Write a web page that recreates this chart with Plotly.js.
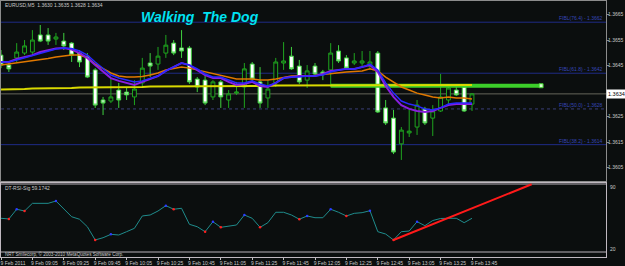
<!DOCTYPE html>
<html><head><meta charset="utf-8">
<script src="https://cdn.plot.ly/plotly-3.0.1.min.js"></script>
<style>html,body{margin:0;padding:0;background:#0b0e0e;}</style>
</head><body><div id="chart" style="width:625px;height:266px"></div>
<script>
const day = '2011-02-09 ';
const times = ['08:45','08:50','08:55','09:00','09:05','09:10','09:15','09:20','09:25','09:30','09:35','09:40','09:45','09:50','09:55',
 '10:00','10:05','10:10','10:15','10:20','10:25','10:30','10:35','10:40','10:45','10:50','10:55',
 '11:00','11:05','11:10','11:15','11:20','11:25','11:30','11:35','11:40','11:45','11:50','11:55',
 '12:00','12:05','12:10','12:15','12:20','12:25','12:30','12:35','12:40','12:45','12:50','12:55',
 '13:00','13:05','13:10','13:15','13:20','13:25','13:30','13:35','13:40','13:45'];
const open = [1.36491,1.36452,1.36480,1.36499,1.36503,1.36570,1.36570,1.36554,1.36546,1.36538,1.36499,1.36487,1.36433,1.36315,1.36311,
 1.36354,1.36346,1.36327,1.36382,1.36460,1.36456,1.36499,1.36538,1.36519,1.36519,1.36397,1.36393,
 1.36327,1.36386,1.36315,1.36342,1.36366,1.36456,1.36386,1.36323,1.36382,1.36460,1.36487,1.36448,
 1.36393,1.36448,1.36425,1.36433,1.36507,1.36480,1.36460,1.36460,1.36448,1.36499,1.36284,1.36244,
 1.36143,1.36186,1.36209,1.36280,1.36244,1.36272,1.36315,1.36354,1.36366,1.36299];
const high = [1.36511,1.36464,1.36538,1.36550,1.36589,1.36609,1.36597,1.36578,1.36578,1.36542,1.36511,1.36499,1.36440,1.36327,1.36401,
 1.36382,1.36366,1.36393,1.36480,1.36499,1.36523,1.36570,1.36550,1.36589,1.36527,1.36405,1.36409,
 1.36393,1.36393,1.36354,1.36386,1.36460,1.36464,1.36444,1.36393,1.36480,1.36542,1.36523,1.36472,
 1.36452,1.36460,1.36433,1.36538,1.36530,1.36491,1.36499,1.36507,1.36507,1.36507,1.36315,1.36276,
 1.36209,1.36276,1.36315,1.36288,1.36295,1.36417,1.36366,1.36370,1.36370,1.36342];
const low = [1.36440,1.36425,1.36464,1.36491,1.36491,1.36542,1.36531,1.36531,1.36511,1.36464,1.36444,1.36401,1.36284,1.36256,1.36303,
 1.36284,1.36315,1.36295,1.36362,1.36405,1.36433,1.36480,1.36491,1.36480,1.36378,1.36346,1.36295,
 1.36315,1.36284,1.36284,1.36335,1.36284,1.36382,1.36284,1.36284,1.36366,1.36433,1.36433,1.36378,
 1.36362,1.36409,1.36393,1.36366,1.36460,1.36433,1.36452,1.36444,1.36433,1.36264,1.36217,1.36103,
 1.36080,1.36170,1.36178,1.36217,1.36174,1.36268,1.36295,1.36331,1.36268,1.36272];
const close = [1.36452,1.36437,1.36503,1.36527,1.36550,1.36546,1.36546,1.36562,1.36527,1.36491,1.36464,1.36405,1.36295,1.36303,1.36327,
 1.36315,1.36335,1.36358,1.36440,1.36448,1.36487,1.36530,1.36499,1.36507,1.36386,1.36366,1.36303,
 1.36386,1.36327,1.36339,1.36346,1.36437,1.36397,1.36303,1.36358,1.36464,1.36468,1.36437,1.36386,
 1.36429,1.36417,1.36417,1.36499,1.36468,1.36440,1.36468,1.36468,1.36464,1.36268,1.36225,1.36111,
 1.36197,1.36193,1.36295,1.36225,1.36272,1.36327,1.36362,1.36335,1.36272,1.36339];
const maBlue = [1.36464,1.36464,1.36472,1.36480,1.36488,1.36499,1.36507,1.36515,1.36519,1.36517,1.36507,1.36491,1.36464,1.36437,1.36413,
 1.36401,1.36393,1.36386,1.36390,1.36401,1.36409,1.36429,1.36444,1.36460,1.36452,1.36437,1.36417,
 1.36405,1.36405,1.36393,1.36382,1.36382,1.36390,1.36378,1.36370,1.36382,1.36401,1.36405,1.36405,
 1.36409,1.36409,1.36413,1.36425,1.36433,1.36437,1.36437,1.36444,1.36456,1.36433,1.36382,1.36342,
 1.36311,1.36299,1.36292,1.36280,1.36276,1.36284,1.36299,1.36303,1.36303,1.36303];
const maPurple = [1.36464,1.36464,1.36476,1.36484,1.36491,1.36503,1.36511,1.36517,1.36519,1.36513,1.36499,1.36480,1.36452,1.36425,1.36401,
 1.36390,1.36382,1.36374,1.36386,1.36397,1.36409,1.36429,1.36444,1.36460,1.36452,1.36433,1.36413,
 1.36401,1.36401,1.36386,1.36374,1.36378,1.36386,1.36370,1.36366,1.36382,1.36401,1.36405,1.36409,
 1.36409,1.36409,1.36417,1.36429,1.36433,1.36437,1.36437,1.36444,1.36452,1.36425,1.36370,1.36327,
 1.36295,1.36280,1.36272,1.36268,1.36272,1.36284,1.36295,1.36299,1.36299,1.36299];
const maOrange = [1.36452,1.36456,1.36460,1.36464,1.36468,1.36472,1.36478,1.36484,1.36488,1.36491,1.36491,1.36480,1.36456,1.36437,1.36421,
 1.36409,1.36405,1.36405,1.36407,1.36413,1.36421,1.36433,1.36439,1.36444,1.36440,1.36433,1.36425,
 1.36417,1.36413,1.36405,1.36397,1.36397,1.36397,1.36393,1.36393,1.36397,1.36403,1.36409,1.36409,
 1.36409,1.36411,1.36415,1.36419,1.36423,1.36425,1.36427,1.36429,1.36437,1.36429,1.36405,1.36386,
 1.36366,1.36354,1.36342,1.36335,1.36327,1.36323,1.36327,1.36323,1.36323,1.36319];
const maYellow = [1.36356,1.36356,1.36358,1.36358,1.36360,1.36360,1.36360,1.36362,1.36362,1.36362,1.36364,1.36364,1.36364,1.36366,1.36366,
 1.36366,1.36366,1.36366,1.36366,1.36368,1.36368,1.36368,1.36368,1.36368,1.36370,1.36370,1.36370,
 1.36370,1.36370,1.36370,1.36370,1.36370,1.36370,1.36370,1.36370,1.36372,1.36372,1.36372,1.36372,
 1.36372,1.36372,1.36372,1.36372,1.36372,1.36372,1.36372,1.36374,1.36374,1.36374,1.36374,1.36374,
 1.36374,1.36374,1.36374,1.36374,1.36374,1.36374,1.36374,1.36374,1.36374,1.36374];
const rsiSig = [54.7,54.0,64.0,62.2,70.1,70.1,70.1,72.5,64.0,56.3,53.7,46.0,32.4,34.7,38.2,
 37.5,40.9,44.4,57.1,58.1,62.2,67.7,64.0,65.0,48.5,46.0,40.9,
 51.2,45.4,46.8,47.8,58.1,54.7,45.4,50.2,60.9,60.9,58.1,53.7,
 57.1,55.3,55.3,64.0,60.9,57.1,59.8,60.5,62.5,40.9,38.5,32.4,
 40.9,41.6,51.2,47.1,52.4,54.5,54.7,54.7,50.2,54.7];
const blueSignalBars = [3,8,15,22,28,32,40,43,48,54];
const redSignalBars = [2,4,13,23,27,29,34,39,45,51];
const fibLevels = [1.3662,1.3642,1.3628,1.3614];
const fibNames = ['FIBL(76.4) - 1.3662','FIBL(61.8) - 1.3642','FIBL(50.0) - 1.3628','FIBL(38.2) - 1.3614'];
const greenLineTimes = ['12:15','14:29'];
const greenLinePrice = [1.36371,1.36371];
const rsiTrendTimes = ['12:55','14:23'];
const rsiTrendValues = [32.4,89.7];
const rsiLevels = [90,20];
const priceTicks = [1.3605,1.3615,1.3625,1.3645,1.3655,1.3665];
const priceTickText = ['1.3605','1.3615','1.3625','1.3645','1.3655','1.3665'];
const timeTicks = ['08:45','09:05','09:25','09:45','10:05','10:25','10:45','11:05','11:25','11:45','12:05','12:25','12:45','13:05','13:25','13:45'];
const timeTickText = ['9 Feb 2011','9 Feb 09:05','9 Feb 09:25','9 Feb 09:45','9 Feb 10:05','9 Feb 10:25','9 Feb 10:45','9 Feb 11:05','9 Feb 11:25','9 Feb 11:45','9 Feb 12:05','9 Feb 12:25','9 Feb 12:45','9 Feb 13:05','9 Feb 13:25','9 Feb 13:45'];
const headerText = 'EURUSD,M5  1.3630 1.3635 1.3628 1.3634';
const indicatorText = 'DT-RSI-Sig 59.1742';
const footerText = 'NRT Smilecorp, \u00a9 2003-2010 MetaQuotes Software Corp.';
const lastPrice = close[close.length-1];

const bg = '#0b0e0e';
const X = times.map(t => day + t);
const xRange = [day + '08:45:00', day + '15:10:21'];
const fam = 'Liberation Sans Narrow, Arial Narrow, Liberation Sans, Arial';
const small = {family:fam, size:5, color:'#c8c8c8'};

const traces = [
 {type:'scatter', mode:'lines', x:greenLineTimes.map(t=>day+t), y:greenLinePrice, line:{color:'#3ccf2a', width:4}, xaxis:'x', yaxis:'y'},
 {type:'scatter', mode:'markers', x:[day+greenLineTimes[1]], y:[greenLinePrice[1]], marker:{symbol:'square', size:4, color:'#d8ffd0', line:{color:'#3ccf2a', width:1}}, xaxis:'x', yaxis:'y'},
 {type:'candlestick', x:X, open:open, high:high, low:low, close:close, xaxis:'x', yaxis:'y',
  increasing:{line:{color:'#1fa51f', width:1}, fillcolor:bg},
  decreasing:{line:{color:'#3fd03f', width:1}, fillcolor:'#ffffff'}, whiskerwidth:0},
 {type:'scatter', mode:'lines', x:X, y:maYellow, line:{color:'#d9d900', width:2}, xaxis:'x', yaxis:'y'},
 {type:'scatter', mode:'lines', x:X, y:maOrange, line:{color:'#e07800', width:1.5}, xaxis:'x', yaxis:'y'},
 {type:'scatter', mode:'lines', x:X, y:maPurple, line:{color:'#8a1ee0', width:2}, xaxis:'x', yaxis:'y'},
 {type:'scatter', mode:'lines', x:X, y:maBlue, line:{color:'#2828ff', width:1.5}, xaxis:'x', yaxis:'y'},
 {type:'scatter', mode:'lines', x:X, y:rsiSig, line:{color:'#1f8c8c', width:1}, xaxis:'x2', yaxis:'y2'},
 {type:'scatter', mode:'lines', x:rsiTrendTimes.map(t=>day+t), y:rsiTrendValues, line:{color:'#ff1a1a', width:2}, xaxis:'x2', yaxis:'y2'},
 {type:'scatter', mode:'markers', x:blueSignalBars.map(i=>X[i-1]), y:blueSignalBars.map(i=>rsiSig[i-1]), marker:{color:'#2a3cff', size:2.5}, xaxis:'x2', yaxis:'y2'},
 {type:'scatter', mode:'markers', x:redSignalBars.map(i=>X[i-1]), y:redSignalBars.map(i=>rsiSig[i-1]), marker:{color:'#ff2020', size:2.5}, xaxis:'x2', yaxis:'y2'}
];

const shapes = [];
fibLevels.forEach((v,i) => shapes.push({type:'line', xref:'x domain', yref:'y', x0:0, x1:1, y0:v, y1:v, layer:'below',
  line:{color: i===2 ? '#3a3f78' : '#1f2b86', width:1, dash: i===2 ? 'dot' : 'solid'}}));
shapes.push({type:'line', xref:'x domain', yref:'y', x0:0, x1:1, y0:lastPrice, y1:lastPrice, layer:'below', line:{color:'#66665a', width:1}});
rsiLevels.forEach(v => shapes.push({type:'line', xref:'x2 domain', yref:'y2', x0:0, x1:1, y0:v, y1:v, layer:'below', line:{color:'#b8b0b8', width:1}}));

const annotations = [
 {xref:'paper', yref:'paper', x:0.0035, y:0.984, xanchor:'left', yanchor:'middle', text:headerText, showarrow:false, font:small},
 {xref:'paper', yref:'paper', x:0.329, y:0.9375, xanchor:'center', yanchor:'middle', text:'Walking\u00a0 The Dog', showarrow:false,
  font:{family:'Liberation Sans, Arial', size:14, color:'#00e2f2', weight:'bold', style:'italic'}},
 {xref:'paper', yref:'paper', x:0.0035, y:0.2676, xanchor:'left', yanchor:'middle', text:indicatorText, showarrow:false, font:small},
 {xref:'paper', yref:'paper', x:0.0035, y:0.0117, xanchor:'left', yanchor:'middle', text:footerText, showarrow:false, font:{family:fam, size:4.6, color:'#c8c8c8'}},
 {xref:'paper', yref:'paper', x:1.004, y:0.2734, xanchor:'left', yanchor:'middle', text:String(rsiLevels[0]), showarrow:false, font:small},
 {xref:'paper', yref:'paper', x:1.004, y:0.0332, xanchor:'left', yanchor:'middle', text:String(rsiLevels[1]), showarrow:false, font:small},
 {xref:'paper', yref:'y', x:1.0, y:lastPrice, xanchor:'left', yanchor:'middle', text:lastPrice.toFixed(4), showarrow:false,
  bgcolor:'#ffffff', borderpad:1, font:{family:fam, size:5.5, color:'#000000'}}
];
fibLevels.forEach((v,i) => annotations.push({xref:'paper', yref:'y', x:0.9967, y:v, xanchor:'right', yanchor:'bottom', text:fibNames[i], showarrow:false,
  font:{family:fam, size:5, color:'#3646b8'}, borderpad:0}));

const layout = {
 width:625, height:266, margin:{l:1, r:19, t:1, b:9}, paper_bgcolor:bg, plot_bgcolor:bg, showlegend:false, hovermode:false,
 xaxis:{domain:[0,1], type:'date', range:xRange, anchor:'y', showline:true, mirror:true, linecolor:'#8c8c8c', linewidth:1,
  showgrid:false, zeroline:false, showticklabels:false, ticks:'', rangeslider:{visible:false}},
 yaxis:{domain:[0.296875,1], range:[1.359975,1.367031], side:'right', anchor:'x', tickvals:priceTicks, ticktext:priceTickText,
  tickfont:small, ticks:'outside', ticklen:2, tickcolor:'#8c8c8c', ticklabelstandoff:-2, showline:true, mirror:true, linecolor:'#8c8c8c', showgrid:false, zeroline:false},
 xaxis2:{domain:[0,1], type:'date', range:xRange, anchor:'y2', showline:true, mirror:true, linecolor:'#c0b8c0',
  tickvals:timeTicks.map(t=>day+t), ticktext:timeTickText, tickangle:0, ticks:'outside', ticklen:2, tickcolor:'#c0c0c0',
  tickfont:small, ticklabelshift:12, ticklabelstandoff:-1, showgrid:false, zeroline:false},
 yaxis2:{domain:[0,0.2890625], range:[14.85,91.03], side:'right', anchor:'x2', showticklabels:false, ticks:'',
  showline:true, mirror:true, linecolor:'#c0b8c0', showgrid:false, zeroline:false},
 shapes:shapes, annotations:annotations
};
Plotly.newPlot('chart', traces, layout, {displayModeBar:false, staticPlot:true});
</script></body></html>
